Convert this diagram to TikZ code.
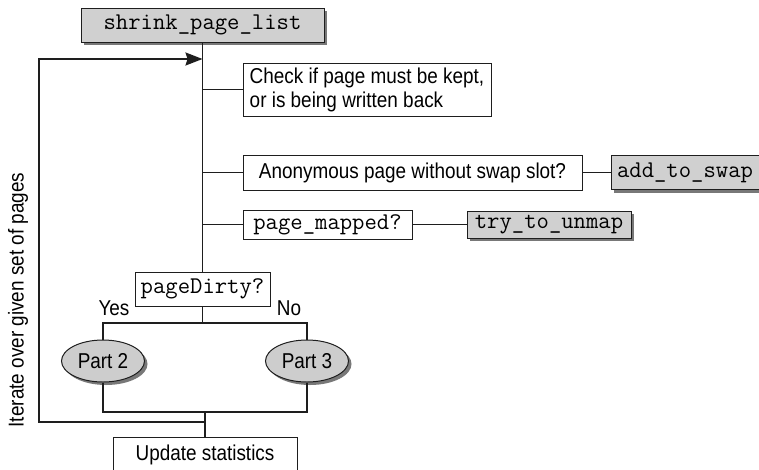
\documentclass[tikz,border=0pt]{standalone}
\usepackage{fontspec}
\setmainfont{Liberation Sans}[FakeStretch=0.88]
\usepackage{tikz}
\usetikzlibrary{arrows.meta,positioning,shapes.geometric,shadows}
\definecolor{BoxGray}{RGB}{208,208,208}
\definecolor{PartGray}{RGB}{205,205,205}
\definecolor{ShadowGray}{RGB}{120,120,120}
\definecolor{LineBlack}{RGB}{30,30,30}
\tikzset{
  codebox/.style={draw=LineBlack,line width=1pt,fill=BoxGray,font=\ttfamily\fontsize{24}{27}\selectfont,inner sep=0pt,
    drop shadow={shadow xshift=3pt,shadow yshift=-3pt,fill=ShadowGray,opacity=1}},
  plainbox/.style={draw=LineBlack,line width=1pt,fill=white,font=\fontsize{21.5}{24}\selectfont,inner sep=0pt},
  codeplain/.style={plainbox,font=\ttfamily\fontsize{24}{27}\selectfont},
  partnode/.style={ellipse,draw=LineBlack,line width=1pt,fill=PartGray,minimum width=83pt,minimum height=42pt,inner sep=0pt,
    font=\fontsize{21.5}{24}\selectfont,drop shadow={shadow xshift=3pt,shadow yshift=-3pt,fill=ShadowGray,opacity=1}},
  link/.style={draw=LineBlack,line width=1.7pt},
  looplink/.style={link,-{Stealth[length=17pt,width=13pt,inset=2pt]}},
  sidelabel/.style={font=\fontsize{21.5}{24}\selectfont,inner sep=0pt}
}
\begin{document}
\begin{tikzpicture}[x=1pt,y=-1pt]
\clip (0,0) rectangle (759,469);
\fill[white] (0,0) rectangle (759,469);
\node[codebox,minimum width=243pt,minimum height=34pt] (shrink) at (202.5,25) {shrink\_page\_list};
\node[plainbox,minimum width=248pt,minimum height=53pt,align=left] (check) at (367,89.5) {Check if page must be kept,\\or is being written back};
\node[plainbox,minimum width=339pt,minimum height=35pt] (anon) at (412.5,172.5) {Anonymous page without swap slot?};
\node[codebox,minimum width=148pt,minimum height=34pt,right=28pt of anon] (addswap) {add\_to\_swap};
\node[codeplain,minimum width=169pt,minimum height=29pt] (mapped) at (327.5,224.5) {page\_mapped?};
\node[codebox,minimum width=164pt,minimum height=27pt,right=54pt of mapped] (unmap) {try\_to\_unmap};
\node[codeplain,minimum width=135pt,minimum height=34pt] (dirty) at (202.5,289) {pageDirty?};
\node[partnode] (parttwo) at (103,361) {Part 2};
\node[partnode] (partthree) at (307,361) {Part 3};
\node[plainbox,minimum width=184pt,minimum height=36pt] (update) at (205,455) {Update statistics};
\node[sidelabel] (yes) at (114,308) {Yes};
\node[sidelabel] (no) at (289,308) {No};
\node[sidelabel,rotate=90] (iterate) at (18,300) {Iterate over given set of pages};
% spine and branches
\coordinate (split) at (202.5,323);
\coordinate (join) at (205,412);
\coordinate (loopbot) at (39,422);
\coordinate (looptop) at (39,59);
\draw[link] (shrink.south) -- (dirty.north);
\draw[link] (shrink.south |- check.west) -- (check.west);
\draw[link] (shrink.south |- anon.west) -- (anon.west);
\draw[link] (shrink.south |- mapped.west) -- (mapped.west);
\draw[link] (anon.east) -- (addswap.west);
\draw[link] (mapped.east) -- (unmap.west);
\draw[link] (dirty.south) -- (split);
\draw[link] (parttwo.north) |- (split) -| (partthree.north);
\draw[link] (parttwo.south) |- (join) -| (partthree.south);
\draw[link] (join) -- (update.north);
\draw[looplink] (join |- loopbot) -- (loopbot) -- (looptop) -- (looptop -| shrink.south);
\end{tikzpicture}
\end{document}
